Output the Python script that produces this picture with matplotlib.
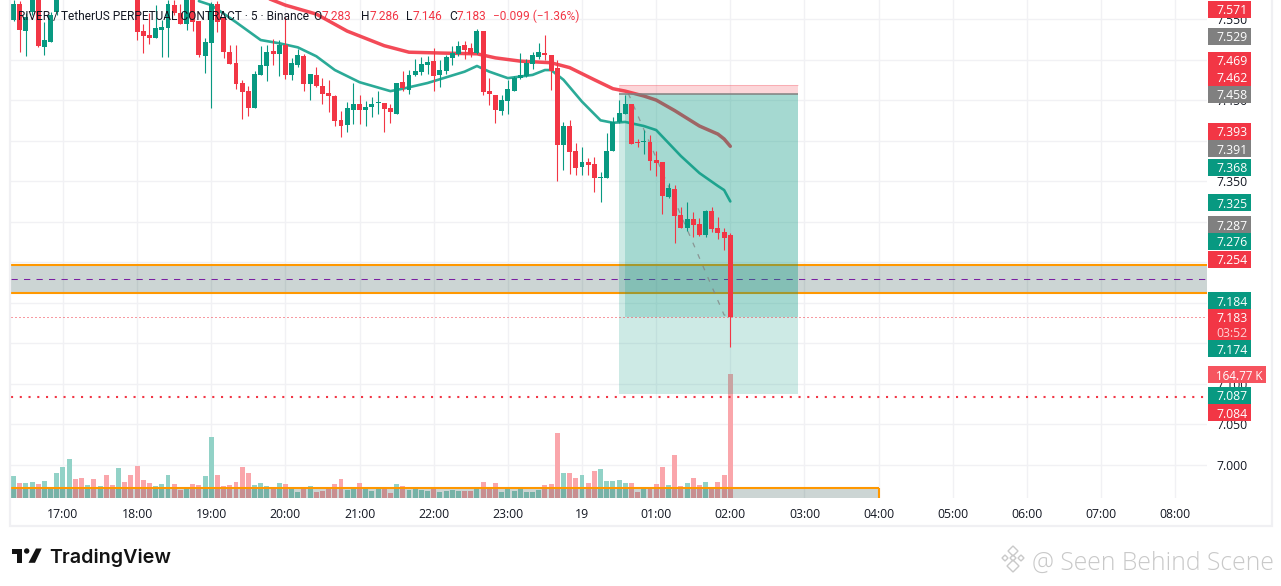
import numpy as np
import matplotlib
matplotlib.use("Agg")
import matplotlib.pyplot as plt
from matplotlib.patches import Rectangle, Polygon, Circle

# ---------- data ----------
first_bar, last_bar = -116, 0     # 5 minute bars, 0 = 02:00
opens = [7.549,7.569,7.535,7.559,7.577,7.515,7.522,7.558] + [None]*12 + [
 7.575,7.535,7.530,7.527,7.536,7.539,7.567,7.557,7.544,7.573,
 7.547,7.504,7.520,7.569,7.553,7.509,7.496,7.471,7.461,7.440,
 7.481,7.492,7.511,7.507,7.518,7.481,7.493,7.504,7.470,7.481,
 7.467,7.459,7.455,7.425,7.419,7.438,7.445,7.438,7.441,7.446,
 7.446,7.440,7.433,7.472,7.462,7.481,7.485,7.493,7.498,7.481,
 7.486,7.502,7.507,7.518,7.514,7.508,7.535,7.461,7.456,7.437,
 7.449,7.461,7.477,7.480,7.494,7.503,7.508,7.506,7.490,7.395,
 7.418,7.387,7.367,7.374,7.371,7.354,7.354,7.387,7.423,7.433,
 7.445,7.398,7.398,7.398,7.376,7.374,7.331,7.340,7.308,7.292,
 7.303,7.297,7.284,7.313,7.292,7.287,7.283]
closes = [7.569,7.536,7.553,7.582,7.517,7.524,7.555,7.575] + [None]*12 + [
 7.534,7.529,7.527,7.539,7.540,7.569,7.557,7.544,7.573,7.546,
 7.506,7.522,7.569,7.546,7.509,7.494,7.470,7.460,7.440,7.482,
 7.493,7.509,7.507,7.518,7.481,7.496,7.506,7.470,7.482,7.467,
 7.457,7.455,7.424,7.418,7.440,7.445,7.438,7.441,7.445,7.447,
 7.439,7.435,7.471,7.465,7.481,7.486,7.494,7.497,7.480,7.487,
 7.503,7.508,7.517,7.512,7.507,7.535,7.460,7.457,7.438,7.450,
 7.464,7.477,7.481,7.496,7.506,7.509,7.506,7.486,7.395,7.418,
 7.386,7.366,7.374,7.370,7.354,7.355,7.387,7.423,7.434,7.445,
 7.396,7.397,7.399,7.375,7.372,7.332,7.342,7.307,7.292,7.303,
 7.296,7.284,7.313,7.291,7.286,7.280,7.183]
highs = [7.573,7.572,7.557,7.584,7.582,7.546,7.559,7.577] + [None]*12 + [
 7.577,7.544,7.557,7.567,7.549,7.573,7.573,7.569,7.575,7.575,
 7.547,7.527,7.571,7.572,7.554,7.518,7.518,7.475,7.467,7.486,
 7.517,7.518,7.525,7.524,7.553,7.502,7.513,7.507,7.482,7.491,
 7.477,7.475,7.456,7.436,7.448,7.471,7.456,7.449,7.454,7.461,
 7.446,7.445,7.471,7.486,7.487,7.501,7.503,7.504,7.514,7.499,
 7.506,7.517,7.523,7.523,7.520,7.538,7.535,7.477,7.456,7.456,
 7.475,7.480,7.508,7.501,7.509,7.520,7.530,7.506,7.499,7.423,
 7.425,7.397,7.392,7.379,7.380,7.361,7.409,7.429,7.450,7.456,
 7.445,7.402,7.413,7.407,7.387,7.374,7.348,7.345,7.318,7.324,
 7.312,7.305,7.314,7.318,7.306,7.292,7.286]
lows = [7.547,7.509,7.504,7.555,7.515,7.506,7.521,7.555] + [None]*12 + [
 7.524,7.508,7.519,7.526,7.503,7.503,7.555,7.544,7.536,7.535,
 7.503,7.483,7.440,7.534,7.502,7.494,7.464,7.427,7.430,7.440,
 7.481,7.473,7.493,7.480,7.476,7.475,7.491,7.461,7.450,7.466,
 7.445,7.435,7.418,7.404,7.411,7.420,7.420,7.418,7.429,7.433,
 7.411,7.422,7.433,7.461,7.457,7.480,7.481,7.482,7.461,7.466,
 7.482,7.493,7.504,7.501,7.503,7.507,7.456,7.444,7.422,7.432,
 7.433,7.461,7.476,7.478,7.488,7.501,7.499,7.462,7.350,7.364,
 7.359,7.358,7.358,7.358,7.337,7.324,7.354,7.387,7.422,7.433,
 7.396,7.392,7.383,7.364,7.356,7.310,7.329,7.274,7.292,7.289,
 7.281,7.282,7.281,7.287,7.279,7.265,7.146]
volumes_k = [
 29.2,19.9,19.9,21.3,18.6,22.6,13.3,33.2,41.2,51.8,
 25.3,26.6,17.3,25.3,15.9,30.6,17.3,39.9,21.3,30.6,
 42.5,23.9,19.9,15.9,18.6,30.6,18.6,10.6,12.4,18.6,
 17.3,29.2,81.1,30.6,15.9,17.3,21.3,41.2,33.2,17.3,
 19.9,15.9,12.4,19.9,18.6,12.0,8.0,12.0,15.9,8.0,
 9.3,12.0,18.6,25.3,10.6,12.0,19.9,12.0,9.3,12.0,
 12.0,6.6,18.6,15.9,10.6,12.0,10.6,9.3,13.3,8.0,
 9.3,10.6,9.3,9.3,9.3,12.0,21.3,13.3,19.9,8.0,
 12.0,9.3,12.0,8.0,8.0,10.6,17.3,18.6,86.4,33.2,
 33.2,26.6,30.6,19.9,35.9,38.5,22.6,22.6,23.9,19.9,
 19.9,8.0,12.0,12.0,18.6,41.2,17.3,57.1,15.9,19.9,
 26.6,17.3,21.3,12.0,21.3,30.6,164.77]
hidden_bar_up = [1,1,0,0,1,0,1,0,0,1,0,0]   # direction of bars above the visible range

ma_slow_bars = [-75,-72,-67,-62,-56,-52,-47,-41,-38,-34,-29,-26,-22,-19,-17,-14,-12,-9,-5,-2,-1,0]
ma_slow = [7.576,7.567,7.556,7.535,7.517,7.509,7.508,7.507,7.502,7.498,7.496,7.490,7.475,7.464,7.461,7.455,7.450,7.437,7.418,7.408,7.402,7.393]
ma_fast_bars = [-86,-84,-80,-76,-73,-70,-67,-64,-60,-55,-53,-49,-43,-41,-39,-36,-32,-30,-29,-27,-24,-21,-19,-17,-14,-12,-8,-5,-2,-1,0]
ma_fast = [7.572,7.567,7.546,7.524,7.520,7.515,7.504,7.487,7.472,7.461,7.464,7.471,7.485,7.492,7.485,7.477,7.481,7.487,7.487,7.475,7.448,7.425,7.422,7.423,7.418,7.413,7.381,7.360,7.344,7.339,7.325]

zone_top, zone_mid, zone_bottom = 7.247, 7.229, 7.2125
lower_zone_top = 6.9716
lower_zone_end_bar = 24
stop_price, entry_price, target_price = 7.469, 7.458, 7.087
pos_start, pos_inner, pos_end = -18, -17, 11
trail_bars = [-16.5, -1, 0]
trail_prices = [7.458, 7.185, 7.183]
last_price, alert_price = 7.183, 7.084

y_ticks = [7.000,7.050,7.100,7.150,7.200,7.250,7.300,7.350,7.400,7.450,7.500,7.550]
y_tick_labels = ["7.000","7.050","7.100","","","","","7.350","","7.450","","7.550"]  # others sit fully behind flags
x_tick_bars = list(range(-108, 73, 12))
x_tick_labels = ["17:00","18:00","19:00","20:00","21:00","22:00","23:00","19","01:00","02:00",
                 "03:00","04:00","05:00","06:00","07:00","08:00"]

RED, TEAL, GREY = "#F23645", "#089981", "#808080"
flag_texts = ["7.571","7.529","7.469","7.462","7.458","7.393","7.391","7.368","7.325","7.287",
              "7.276","7.254","7.184","7.174","7.087","7.084"]
flag_centres = [9.5,36.3,60.3,77.5,94.3,131.5,148.5,167.5,202.5,224.5,241.5,259.5,300.5,348.5,395.5,412.5]
flag_colours = [RED,GREY,RED,RED,GREY,RED,GREY,TEAL,TEAL,GREY,TEAL,RED,TEAL,TEAL,TEAL,RED]

# ---------- figure ----------
W, H = 1281, 586
plt.rcParams["font.family"] = ["Open Sans", "DejaVu Sans"]
fig = plt.figure(figsize=(W/100, H/100), dpi=100, facecolor="white")
L, R, B = 11, 1207, 498
rect = [L/W, 1-B/H, (R-L)/W, B/H]

bars = np.arange(first_bar, last_bar+1)
o, h, l, c = [np.array(a, dtype=float) for a in (opens, highs, lows, closes)]
up = c >= o
up[8:20] = np.array(hidden_bar_up, dtype=bool)

xlim = ((L-730.3)/6.179, (R-730.3)/6.179)
ylim = (7-(B-465)/811, 7+465/811)

# grid pane, volume pane and price pane share one rectangle
gax = fig.add_axes(rect, zorder=0)
gax.set_xlim(xlim)
gax.set_ylim(ylim)
gax.set_xticks(x_tick_bars)
gax.set_yticks(y_ticks)
gax.tick_params(length=0, labelbottom=False, labelleft=False)
gax.grid(True, color="#F1F1F4", lw=1.0)
for s in gax.spines.values():
    s.set_visible(False)

vax = fig.add_axes(rect, zorder=1)
vax.patch.set_visible(False)
vax.axis("off")
vax.set_xlim(xlim)
vax.set_ylim(0, 164.77*B/124)
vax.bar(bars, volumes_k, width=0.8, color=np.where(up, "#92D2C7", "#FAA6AB"), linewidth=0)

ax = fig.add_axes(rect, zorder=2)
ax.patch.set_visible(False)
ax.set_xlim(xlim)
ax.set_ylim(ylim)
for s in ax.spines.values():
    s.set_visible(False)
ax.set_xticks(x_tick_bars)
ax.set_xticklabels(x_tick_labels)
ax.set_yticks(y_ticks)
ax.set_yticklabels(y_tick_labels)
ax.yaxis.tick_right()
ax.tick_params(axis="y", length=0, pad=6.5, labelsize=8.8, labelcolor="#131722")
ax.tick_params(axis="x", length=0, pad=7.5, labelsize=8.8, labelcolor="#131722")

# moving averages sit beneath the position tool
ax.plot(ma_slow_bars, ma_slow, color=RED, lw=2.5, alpha=0.9, zorder=2, solid_capstyle="round")
ax.plot(ma_fast_bars, ma_fast, color="#1FA692", lw=1.9, alpha=0.95, zorder=2, solid_capstyle="round")

# supply zones
xmin, xmax = ax.get_xlim()
ymin, ymax = ax.get_ylim()
zone_fill = dict(facecolor="#0E3C34", alpha=0.21, edgecolor="none", zorder=3)
ax.add_patch(Rectangle((xmin, zone_bottom), xmax-xmin, zone_top-zone_bottom, **zone_fill))
ax.hlines([zone_top, zone_bottom], xmin, xmax, color="#FF9800", lw=1.5, zorder=3.1)
ax.hlines(zone_mid, xmin, xmax, color="#7B1FA2", lw=0.75, linestyles=(0, (6, 6)), zorder=3.1)
ax.add_patch(Rectangle((xmin, ymin), lower_zone_end_bar-xmin, lower_zone_top-ymin, **zone_fill))
ax.hlines(lower_zone_top, xmin, lower_zone_end_bar, color="#FF9800", lw=1.5, zorder=3.1)
ax.vlines(lower_zone_end_bar, ymin, lower_zone_top, color="#FF9800", lw=1.5, zorder=3.1)

# position tool
ax.add_patch(Rectangle((pos_start, entry_price), pos_end-pos_start, stop_price-entry_price,
                       facecolor=RED, alpha=0.2, edgecolor="none", zorder=4))
ax.hlines(stop_price, pos_start, pos_end, color=RED, lw=0.75, alpha=0.25, zorder=4)
ax.add_patch(Rectangle((pos_start, target_price), pos_end-pos_start, entry_price-target_price,
                       facecolor=TEAL, alpha=0.2, edgecolor="none", zorder=4))
ax.add_patch(Rectangle((pos_inner, last_price), pos_end-pos_inner, entry_price-last_price,
                       facecolor=TEAL, alpha=0.2, edgecolor="none", zorder=4))
ax.hlines(entry_price, pos_start, pos_end, color=GREY, lw=1.1, zorder=4.1)
ax.plot(trail_bars, trail_prices, color=GREY, lw=0.9, alpha=0.75, linestyle=(0, (4, 6)), zorder=4.2)

# price lines
ax.hlines(last_price, xmin, xmax, color=RED, lw=0.72, linestyles=(0, (1, 3)), zorder=4.3)
ax.hlines(alert_price, xmin, xmax, color=RED, lw=1.5, linestyles=(0, (1, 3.2)), zorder=4.3)

# candles
cols = np.where(up, TEAL, RED)
visible = ~np.isnan(o)
ax.vlines(bars[visible], l[visible], h[visible], colors=cols[visible], lw=0.8, zorder=5)
bottoms = np.minimum(o, c)[visible]
heights = np.maximum(np.abs(c-o)[visible], 0.0012)
ax.bar(bars[visible], heights, bottom=bottoms, width=0.8, color=cols[visible], linewidth=0, zorder=5.1)

# ---------- overlay in pixel units: flags, legend, frame, branding ----------
ov = fig.add_axes([0, 0, 1, 1], zorder=5)
ov.set_xlim(0, W)
ov.set_ylim(H, 0)
ov.axis("off")
ov.patch.set_visible(False)

ov.add_patch(Rectangle((10, -3), 1262, 529, fill=False, edgecolor="#F0F0F3", lw=1.6))

FLAG_X, FLAG_W = 1208, 43
for txt, yc, col in zip(flag_texts, flag_centres, flag_colours):
    ov.add_patch(Rectangle((FLAG_X, yc-8.5), FLAG_W, 17, facecolor=col, edgecolor="none"))
    ov.text(1216, yc, txt, color="white", fontsize=8.8, va="center_baseline", ha="left")
ov.add_patch(Rectangle((FLAG_X, 309), FLAG_W, 31, facecolor=RED, edgecolor="none"))
ov.text(1216, 317, "7.183", color="white", fontsize=8.8, va="center_baseline", ha="left")
ov.text(1216, 332, "03:52", color="#FFD0D4", fontsize=8.8, va="center_baseline", ha="left")
ov.add_patch(Rectangle((FLAG_X, 366), 58, 17, facecolor="#F6545F", edgecolor="none"))
ov.text(1216, 375, "164.77 K", color="white", fontsize=8.4, va="center_baseline", ha="left")

# legend line
LEG = 8.55
LEGF = "Roboto"
ov.text(18, 15, "RIVER / TetherUS PERPETUAL CONTRACT · 5 · Binance", color="#131722",
        fontsize=LEG, fontfamily=LEGF, va="center_baseline", ha="left")
for x, vx, pre, val in [(313, 322, "O", "7.283"), (361, 370, "H", "7.286"),
                        (406, 413, "L", "7.146"), (449, 457, "C", "7.183")]:
    ov.text(x, 15, pre, color="#131722", fontsize=LEG, fontfamily=LEGF, va="center_baseline", ha="left")
    ov.text(vx, 15, val, color=RED, fontsize=LEG, fontfamily=LEGF, va="center_baseline", ha="left")
ov.text(493, 15, "−0.099 (−1.36%)", color=RED, fontsize=LEG, fontfamily=LEGF, va="center_baseline", ha="left")

# TradingView logo
DARK = "#131313"
ov.add_patch(Polygon([(12, 548.5), (22, 548.5), (22, 553.5), (12, 553.5)], color=DARK, lw=0))
ov.add_patch(Polygon([(16.7, 553), (22, 553), (22, 562.8), (16.7, 562.8)], color=DARK, lw=0))
ov.add_patch(Circle((26.7, 551), 2.7, color=DARK, lw=0))
ov.add_patch(Polygon([(36, 548.5), (41.7, 548.5), (35, 562.8), (28.5, 562.8)], color=DARK, lw=0))
ov.text(49, 556, "TradingView", color=DARK, fontsize=14.2, fontfamily="Inter", fontweight="semibold",
        va="center_baseline", ha="left")

# watermark
WM = "#C9C9C9"
for cx, cy, r in [(1013, 551, 5), (1005, 558, 3), (1021, 558, 3), (1013, 558, 3), (1013, 566, 6)]:
    ov.add_patch(Polygon([(cx, cy-r), (cx+r, cy), (cx, cy+r), (cx-r, cy)], fill=False, edgecolor=WM, lw=1.0))
ov.text(1032, 560, "@ Seen Behind Scene", color=WM, fontsize=17.8, fontfamily="Open Sans",
        fontweight="light", va="center_baseline", ha="left")

fig.savefig("out.png", dpi=100)
